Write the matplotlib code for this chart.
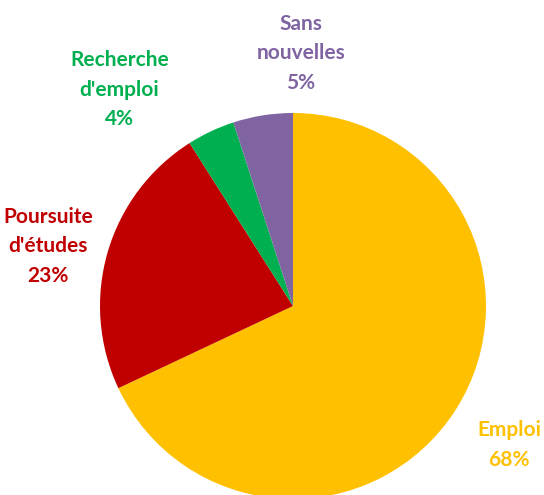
import matplotlib
matplotlib.use("Agg")
import matplotlib.pyplot as plt

# Données
categories = ["Emploi", "Poursuite\nd'études", "Recherche\nd'emploi", "Sans\nnouvelles"]
valeurs = [68, 23, 4, 5]
couleurs = ["#FFC000", "#C00000", "#00B050", "#8064A2"]

# positions des étiquettes (coordonnées données, rayon = 1)
pos_labels = [(1.12, -0.72), (-1.27, 0.31), (-0.90, 1.12), (0.04, 1.31)]

plt.rcParams['font.family'] = ['Lato', 'DejaVu Sans']

fig = plt.figure(figsize=(5.44, 4.95), dpi=100)
ax = fig.add_axes([0, 0, 1, 1])

ax.pie(valeurs, colors=couleurs, startangle=90, counterclock=False,
       radius=1, wedgeprops={'linewidth': 0})

# centre du camembert à (293, 306) px, rayon 193 px
r = 193
ax.set_xlim(-293 / r, (544 - 293) / r)
ax.set_ylim(-(495 - 306) / r, 306 / r)
ax.set_aspect('equal')
ax.axis('off')

for cat, val, col, (x, y) in zip(categories, valeurs, couleurs, pos_labels):
    ax.text(x, y, f"{cat}\n{val}%", color=col, fontsize=15, fontweight='bold',
            ha='center', va='center', linespacing=1.6)

plt.savefig("out.png", dpi=100)
